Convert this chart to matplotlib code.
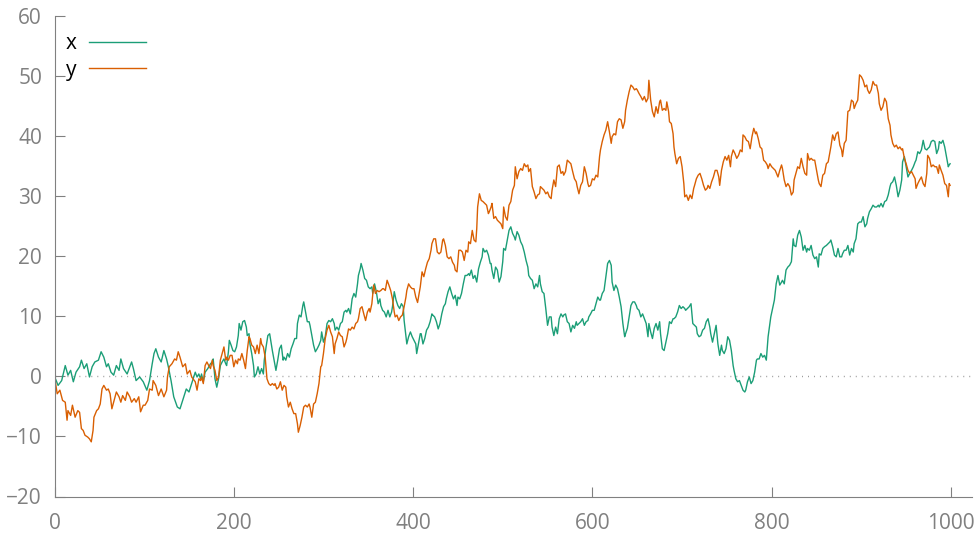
import matplotlib
matplotlib.use("Agg")
import matplotlib.pyplot as plt
from matplotlib.lines import Line2D

# Random walk samples: (step, value)
x_walk = [
    (0, 0.0), (4, -1.5), (8, -0.7), (12, 1.8), (15, 0.2), (18, 1.0), (21, -0.9), (24, 0.7), (28, 1.6), (30, 2.7),
    (33, 1.3), (36, 2.1), (39, -0.1), (42, 1.6), (45, 2.4), (49, 2.7), (52, 4.1), (55, 3.2), (58, 1.6), (60, 2.1),
    (63, 0.7), (66, 0.2), (69, 1.8), (72, 1.0), (74, 2.9), (77, 1.3), (81, 0.4), (84, 1.6), (86, 2.4), (88, 1.3),
    (91, -0.7), (95, -0.1), (99, -0.9), (103, -2.3), (106, -0.7), (109, 2.1), (111, 3.8), (113, 4.6), (116, 3.2),
    (119, 2.4), (122, 4.3), (125, 2.9), (127, 1.6), (130, -0.7), (133, -3.4), (137, -5.1), (140, -5.4), (143, -4.0),
    (147, -2.1), (150, -2.6), (153, -1.2),
    (157, 0.7), (159, -0.1), (161, 0.4), (163, -0.4), (164, 0.4), (166, -0.9), (168, 0.7), (171, 1.3), (174, 2.1),
    (176, 2.4), (177, 2.9), (179, -0.4), (181, -1.8), (183, -0.4), (185, 1.8), (187, 2.4), (189, 2.9), (191, 2.1),
    (192, 1.8), (194, 4.1), (195, 6.0), (197, 5.2), (199, 4.3), (201, 4.1), (203, 4.9), (205, 6.8), (206, 8.8),
    (208, 7.7), (210, 9.1), (212, 9.3), (214, 8.2), (215, 6.8), (217, 7.1), (218, 5.4), (220, 3.8), (222, 1.8),
    (223, -0.1), (225, 0.4), (227, 1.6), (229, 0.4), (231, 1.3), (233, 0.4), (234, 2.7), (236, 4.9), (238, 6.8),
    (240, 7.1), (242, 5.2), (243, 4.3), (245, 2.7), (247, 1.0), (249, 2.7), (251, 4.6), (253, 5.2), (255, 2.7),
    (256, 3.2), (258, 2.7), (260, 3.8), (262, 3.2), (264, 4.6), (266, 5.4), (268, 6.3), (270, 6.3), (271, 8.8),
    (273, 10.2), (275, 9.9), (277, 11.8), (278, 12.4), (280, 10.7), (282, 9.1), (284, 9.1), (285, 8.5), (287, 6.8),
    (289, 5.2), (291, 4.1), (293, 4.6), (295, 5.2), (297, 6.0), (298, 7.4), (300, 5.7), (302, 6.6), (304, 8.8),
    (306, 9.3), (308, 9.1), (310, 9.6), (312, 8.8), (313, 7.7), (315, 8.2), (317, 7.7), (319, 8.8), (321, 9.1),
    (323, 10.7), (325, 11.0),
    (326, 10.7), (328, 11.3), (330, 10.4), (332, 12.9), (334, 13.8), (336, 13.2), (338, 15.4), (339, 16.8),
    (341, 17.9), (342, 18.8), (344, 17.7), (346, 16.3), (348, 16.0), (350, 14.9), (352, 14.6), (354, 14.9),
    (355, 13.8), (357, 15.4), (359, 14.1), (361, 12.1), (363, 12.9), (364, 11.8), (366, 11.0), (368, 10.7),
    (370, 9.9), (372, 11.0), (374, 9.9), (376, 10.7), (377, 11.6), (379, 14.1), (381, 12.7), (383, 11.8),
    (385, 11.3), (387, 12.1), (389, 11.6), (390, 9.3), (392, 6.8), (393, 5.4), (395, 6.6), (397, 7.4), (399, 6.6),
    (401, 6.0), (403, 5.4), (404, 3.8), (406, 5.4), (408, 7.1), (409, 7.1), (411, 5.4), (413, 6.3), (415, 7.7),
    (417, 8.2), (419, 9.1), (421, 10.4), (422, 10.2), (424, 9.9), (426, 9.1), (428, 7.9), (430, 8.8), (432, 10.4),
    (434, 11.6), (436, 12.1), (437, 12.9), (439, 14.1), (441, 14.9), (443, 13.8), (445, 12.9), (447, 13.5),
    (449, 11.8), (450, 13.2), (452, 12.9), (454, 13.8), (456, 15.4), (458, 16.8), (460, 16.8), (462, 17.1),
    (463, 16.8), (465, 17.7), (467, 16.3), (469, 16.8), (471, 15.7), (473, 17.9), (475, 19.0), (477, 19.9),
    (478, 21.3), (480, 20.7), (482, 21.0), (484, 20.2), (486, 18.8),
    (487, 18.8), (488, 17.7), (490, 16.3), (492, 18.2), (494, 17.7), (496, 15.7), (498, 16.6), (500, 19.1),
    (501, 21.3), (503, 21.0), (505, 22.7), (507, 24.3), (509, 24.9), (511, 23.8), (513, 23.2), (514, 22.7),
    (516, 24.1), (518, 23.5), (520, 22.4), (522, 21.8), (524, 20.7), (526, 19.3), (528, 18.2), (529, 16.8),
    (531, 16.3), (533, 16.0), (535, 14.6), (537, 15.4), (539, 14.9), (541, 16.8), (542, 15.4), (544, 14.1),
    (546, 13.8), (548, 11.3), (550, 8.5), (552, 9.9), (554, 9.9), (555, 8.2), (557, 6.8), (559, 8.2), (561, 7.1),
    (563, 9.6), (565, 10.4), (567, 9.9), (568, 10.2), (570, 10.4), (572, 9.1), (574, 8.8), (576, 7.4), (578, 8.5),
    (580, 8.0), (582, 9.1), (583, 8.5), (585, 8.8), (587, 9.1), (589, 9.6), (591, 8.5), (593, 9.1), (595, 9.3),
    (596, 9.9), (598, 10.4), (600, 11.0), (602, 11.0), (604, 12.1), (606, 13.2), (608, 12.7), (609, 12.7),
    (611, 13.8), (613, 14.3), (615, 16.6), (617, 18.8), (619, 19.3), (621, 18.5), (622, 15.7), (624, 14.3),
    (626, 15.2), (628, 14.6), (630, 13.2), (632, 11.6), (634, 8.8), (636, 6.6), (637, 7.1), (639, 8.0), (641, 9.9),
    (643, 11.8), (645, 12.4), (647, 12.4), (649, 11.8),
    (650, 11.3), (652, 11.0), (654, 9.9), (656, 10.4), (658, 9.6), (660, 8.8), (662, 6.6), (663, 8.8), (665, 7.4),
    (667, 6.3), (669, 8.0), (671, 8.8), (673, 7.7), (675, 9.1), (676, 7.1), (678, 4.6), (680, 4.3), (682, 5.7),
    (684, 7.1), (686, 9.1), (688, 8.8), (690, 9.6), (691, 9.6), (693, 9.9), (695, 10.7), (697, 11.8), (699, 11.3),
    (701, 11.6), (703, 11.3), (704, 11.0), (706, 11.3), (708, 11.6), (710, 12.1), (712, 8.8), (714, 8.5),
    (716, 8.2), (717, 7.1), (719, 6.6), (721, 6.8), (723, 7.7), (725, 8.0), (727, 9.1), (729, 9.6), (731, 8.2),
    (732, 7.1), (734, 5.7), (736, 7.1), (738, 8.5), (740, 5.4), (742, 3.5), (744, 5.2), (745, 4.3), (747, 3.8),
    (749, 4.6), (751, 6.6), (753, 6.0), (755, 4.3), (757, 1.8), (758, 1.0), (760, -0.4), (762, -0.9), (764, -0.7),
    (766, -1.5), (768, -2.3), (770, -2.6), (771, -2.3), (773, -0.9), (775, -0.1), (777, -1.2), (779, -0.7),
    (781, 0.7), (783, 2.7), (784, 2.9), (786, 2.9), (788, 3.8), (790, 3.2), (792, 3.5), (794, 2.7), (796, 6.6),
    (798, 8.8), (799, 9.9), (801, 11.3), (803, 12.7), (805, 15.4),
    (807, 16.8), (809, 15.2), (811, 15.7), (812, 16.0), (814, 15.4), (816, 17.7), (818, 18.2), (820, 18.5),
    (822, 19.1), (824, 22.9), (825, 21.8), (827, 21.6), (829, 23.5), (831, 24.3), (833, 23.2), (835, 21.0),
    (837, 21.8), (839, 20.7), (840, 21.3), (842, 21.0), (844, 21.8), (846, 20.2), (848, 19.6), (850, 19.9),
    (852, 18.2), (853, 20.4), (855, 20.2), (857, 21.3), (859, 21.6), (861, 21.8), (863, 22.1), (865, 22.4),
    (866, 22.7), (868, 21.6), (870, 20.2), (872, 19.9), (874, 21.3), (876, 19.9), (878, 19.9), (879, 20.4),
    (881, 21.0), (883, 21.0), (885, 21.8), (887, 20.2), (889, 21.3), (891, 20.7), (892, 22.1), (894, 22.9),
    (896, 25.4), (898, 25.7), (900, 25.7), (902, 26.6), (904, 24.9), (906, 25.4), (907, 26.3), (909, 27.4),
    (911, 27.9), (913, 28.5), (915, 28.2), (917, 28.2), (919, 28.5), (920, 28.2), (922, 28.8), (924, 28.2),
    (926, 29.1), (928, 29.3), (930, 30.2), (932, 31.6), (933, 32.1), (935, 32.4), (937, 33.2), (939, 31.8),
    (941, 29.9), (943, 31.0), (945, 32.7), (946, 35.7), (948, 36.6), (950, 34.9), (952, 33.2), (954, 33.8),
    (956, 34.3), (958, 34.9), (960, 35.7), (961, 36.0), (963, 37.4), (965, 37.1), (967, 37.7), (969, 39.3),
    (971, 37.9), (973, 37.7), (974, 37.9), (976, 38.2), (978, 39.1), (980, 39.3), (982, 39.1), (984, 37.1),
    (986, 37.9), (987, 39.1), (989, 38.8), (991, 39.3), (993, 38.2), (995, 36.6), (997, 34.9), (998, 35.2),
    (999, 35.4),
]

y_walk = [
    (0, 0.0), (3, -2.9), (6, -2.3), (9, -4.0), (12, -4.3), (14, -7.3), (15, -5.7), (18, -6.5), (20, -4.8),
    (23, -6.8), (26, -5.7), (28, -6.0), (30, -8.7), (32, -9.0), (34, -9.8), (37, -10.1), (39, -10.4), (41, -10.9),
    (43, -9.0), (44, -6.8), (47, -5.7), (49, -5.4), (51, -4.6), (53, -2.1), (55, -1.5), (58, -2.3), (60, -2.1),
    (62, -2.9), (64, -5.4), (66, -4.3), (69, -2.6), (72, -3.4), (74, -4.3), (76, -3.2), (79, -4.0), (81, -2.6),
    (84, -3.4), (86, -4.3), (89, -3.7), (91, -4.3), (94, -3.4), (96, -5.9), (99, -4.8), (101, -4.8), (104, -4.0),
    (106, -2.1), (109, -2.3), (110, -0.7), (113, -1.5), (116, -3.2), (119, -2.1), (122, -3.4), (125, -2.3),
    (126, -0.1), (128, 1.6), (131, 2.1), (134, 2.9), (136, 2.7), (138, 4.1), (140, 3.2), (143, 1.6), (146, 2.1),
    (148, 0.4), (151, 1.0), (153, -0.1),
    (157, -0.9), (159, -2.3), (161, -0.4), (163, -0.7), (164, -0.1), (166, -1.2), (168, 1.8), (170, 2.4),
    (172, 1.8), (174, 1.3), (176, 2.7), (177, 1.8), (179, 1.0), (181, -0.7), (183, -0.1), (185, 2.7), (187, 3.8),
    (189, 4.9), (191, 2.7), (192, 3.2), (194, 2.7), (196, 3.5), (198, 3.5), (200, 1.6), (202, 2.7), (204, 2.1),
    (205, 2.9), (207, 2.7), (209, 3.8), (211, 2.7), (213, 1.3), (215, 4.3), (217, 6.6), (218, 6.3), (220, 5.2),
    (222, 4.9), (224, 3.8), (226, 5.2), (228, 3.8), (230, 6.3), (231, 5.4), (233, 4.9), (235, 3.2), (237, -0.4),
    (239, -1.2), (241, -1.5), (243, -1.2), (245, -1.5), (246, -1.2), (248, -2.1), (250, -1.8), (252, -0.9),
    (254, -2.3), (256, -1.5), (258, -1.8), (259, -3.4), (261, -5.1), (263, -4.3), (265, -5.4), (267, -6.2),
    (269, -6.2), (271, -7.9), (272, -9.3), (274, -8.2), (276, -6.8), (278, -5.1), (280, -4.8), (282, -5.1),
    (284, -4.6), (285, -5.1), (287, -6.8), (289, -4.6), (291, -4.3), (293, -2.9), (295, -1.2), (297, 1.6),
    (298, 1.8), (300, 3.8), (302, 6.3), (304, 7.7), (306, 8.5), (308, 7.4), (310, 6.6), (312, 3.8), (313, 5.4),
    (315, 6.3), (317, 7.4), (319, 6.8), (321, 6.6), (323, 4.9), (325, 5.7),
    (326, 6.3), (328, 7.9), (330, 7.7), (332, 8.2), (334, 7.9), (336, 8.8), (338, 9.1), (339, 9.6), (341, 11.3),
    (343, 11.6), (345, 10.4), (347, 9.3), (349, 10.7), (351, 11.3), (352, 10.7), (354, 12.1), (356, 15.2),
    (358, 13.8), (360, 14.3), (362, 14.1), (364, 14.3), (366, 14.6), (367, 14.6), (369, 14.3), (371, 16.0),
    (373, 15.2), (375, 14.3), (377, 12.9), (379, 10.7), (380, 9.9), (382, 10.2), (384, 9.3), (386, 9.9),
    (388, 10.2), (390, 11.6), (392, 13.2), (393, 14.3), (395, 15.4), (397, 14.9), (399, 14.6), (401, 14.6),
    (403, 13.2), (405, 12.3), (406, 13.2), (408, 14.9), (410, 17.4), (412, 16.6), (414, 17.9), (416, 19.0),
    (418, 19.6), (420, 21.0), (421, 22.1), (423, 22.9), (425, 22.9), (427, 20.7), (429, 20.4), (431, 20.7),
    (433, 22.7), (434, 22.9), (436, 21.8), (438, 19.9), (440, 19.6), (442, 19.9), (444, 19.0), (446, 18.5),
    (447, 17.7), (449, 17.4), (451, 21.0), (453, 21.0), (455, 20.7), (457, 19.3), (459, 21.0), (461, 20.7),
    (462, 22.4), (464, 22.1), (466, 24.3), (468, 22.7), (470, 22.4), (471, 24.6), (472, 28.2), (474, 30.4),
    (476, 29.3), (478, 29.1), (480, 28.8), (482, 28.5), (484, 27.1), (485, 27.4),
    (487, 28.2), (488, 28.8), (490, 26.3), (492, 26.6), (494, 26.0), (496, 25.7), (498, 25.4), (500, 24.6),
    (501, 28.2), (503, 26.6), (505, 26.0), (507, 28.5), (509, 29.1), (511, 31.0), (513, 31.8), (514, 34.9),
    (516, 32.9), (518, 34.1), (520, 34.6), (522, 34.3), (524, 35.4), (526, 34.9), (528, 35.2), (529, 34.1),
    (531, 34.6), (533, 31.6), (535, 30.7), (537, 29.6), (539, 30.2), (541, 30.4), (542, 31.6), (544, 31.3),
    (546, 31.0), (548, 30.4), (550, 30.7), (552, 29.9), (554, 29.6), (555, 31.0), (557, 32.7), (559, 31.6),
    (561, 34.9), (563, 35.2), (565, 33.8), (567, 34.1), (568, 33.5), (570, 34.1), (572, 36.0), (574, 35.7),
    (576, 35.4), (578, 34.1), (580, 32.9), (582, 32.4), (583, 31.6), (585, 30.4), (587, 31.8), (589, 32.4),
    (591, 34.9), (593, 33.8), (595, 32.1), (596, 31.6), (598, 31.8), (600, 32.9), (602, 32.7), (604, 33.5),
    (606, 33.2), (608, 36.6), (609, 37.7), (611, 39.1), (613, 40.2), (615, 41.0), (617, 42.4), (619, 40.7),
    (621, 38.8), (622, 39.9), (624, 40.4), (626, 40.2), (628, 42.4), (630, 42.9), (632, 42.7), (634, 41.3),
    (636, 42.4), (637, 44.3), (639, 46.0), (641, 47.4), (643, 48.5), (645, 48.2), (647, 47.7), (649, 47.9),
    (650, 47.7), (652, 47.1), (654, 46.6), (656, 46.0), (658, 46.6), (660, 45.7), (662, 46.3), (663, 49.3),
    (665, 46.0), (667, 44.1), (669, 43.2), (671, 44.9), (673, 43.8), (675, 45.7), (676, 46.0), (678, 44.3),
    (680, 44.6), (682, 44.3), (683, 45.7), (685, 44.1), (686, 42.4), (688, 42.1), (690, 40.4), (691, 38.2),
    (692, 37.1), (694, 35.4), (696, 36.3), (698, 36.6), (700, 34.9), (702, 32.1), (703, 29.9), (705, 30.2),
    (707, 29.3), (709, 30.2), (711, 29.6), (713, 31.3), (714, 31.8), (716, 32.9), (718, 33.5), (720, 33.8),
    (722, 32.9), (724, 31.8), (726, 31.0), (728, 31.3), (729, 31.8), (731, 31.3), (733, 32.4), (735, 33.2),
    (737, 34.3), (739, 34.3), (741, 33.2), (742, 31.8), (744, 34.3), (746, 35.7), (748, 36.6), (750, 36.0),
    (752, 36.8), (754, 34.9), (755, 36.6), (757, 37.7), (759, 37.1), (761, 36.3), (763, 36.8), (765, 37.7),
    (767, 37.4), (768, 40.2), (770, 39.9), (772, 39.3), (774, 39.1), (776, 37.9), (778, 39.9), (780, 41.3),
    (782, 40.4), (783, 40.7), (785, 39.6), (787, 38.2), (789, 37.9), (791, 36.0), (793, 35.7), (795, 35.2),
    (796, 34.6), (798, 35.4), (800, 34.9), (802, 34.6), (804, 34.3),
    (807, 33.2), (809, 34.3), (811, 35.2), (812, 34.6), (814, 32.7), (816, 31.6), (818, 32.1), (820, 31.6),
    (822, 30.2), (824, 30.7), (825, 32.7), (827, 33.8), (829, 34.9), (831, 34.6), (833, 36.3), (835, 34.9),
    (837, 33.8), (839, 33.5), (840, 37.1), (842, 36.0), (844, 36.3), (846, 36.0), (848, 36.0), (850, 34.3),
    (852, 32.7), (853, 32.1), (855, 31.6), (857, 33.5), (859, 33.8), (861, 35.4), (863, 35.7), (865, 37.4),
    (866, 38.2), (868, 40.2), (870, 39.3), (872, 40.4), (874, 40.7), (876, 38.5), (878, 37.7), (879, 36.6),
    (881, 38.8), (883, 39.3), (885, 44.1), (887, 44.3), (889, 46.0), (891, 45.7), (892, 44.6), (894, 45.4),
    (896, 46.0), (898, 50.2), (900, 49.9), (902, 49.3), (904, 48.2), (906, 48.5), (907, 47.7), (909, 47.1),
    (911, 47.7), (913, 49.1), (915, 48.5), (917, 48.5), (919, 47.1), (920, 45.4), (922, 44.3), (924, 44.9),
    (926, 46.3), (928, 45.7), (930, 42.9), (932, 41.8), (933, 40.2), (935, 38.8), (937, 38.2), (939, 38.5),
    (941, 37.9), (943, 38.2), (945, 37.7), (946, 37.9), (948, 36.3), (950, 35.4), (952, 34.3), (954, 33.8),
    (956, 34.1), (958, 33.5), (960, 32.9), (961, 31.3), (963, 32.1), (965, 32.7), (967, 33.2), (969, 32.1),
    (971, 31.6), (973, 33.8), (974, 36.8), (976, 36.3), (978, 34.9), (980, 35.2), (982, 34.9), (984, 34.9),
    (986, 33.8), (987, 35.2), (989, 34.3), (991, 33.5), (993, 32.1), (995, 31.8), (997, 29.9), (998, 32.1),
    (999, 31.8),
]

series_labels = ["x", "y"]
series_colors = ["#1b9e77", "#d95f02"]
x_ticks = [0, 200, 400, 600, 800, 1000]
y_ticks = [-20, -10, 0, 10, 20, 30, 40, 50, 60]

plt.rcParams["font.family"] = ["Open Sans", "DejaVu Sans"]
axis_gray = "#808080"

fig = plt.figure(figsize=(9.79, 5.38), dpi=100)
# plot area runs a little past the last tick, as the axis line does
ax = fig.add_axes([54.5 / 979, 41.5 / 538, 918 / 979, 480.5 / 538])

ax.axhline(0, color="#9a9a9a", lw=1.0, dashes=(0.7, 3.6), zorder=1)

for walk, label, color in zip([x_walk, y_walk], series_labels, series_colors):
    steps = [s for s, _ in walk]
    vals = [v for _, v in walk]
    ax.plot(steps, vals, color=color, lw=1.0, label=label, zorder=2)

ax.set_xlim(0, 1024)
ax.set_ylim(-20, 60)
ax.set_xticks(x_ticks)
ax.set_yticks(y_ticks)

for side in ("top", "right"):
    ax.spines[side].set_visible(False)
for side in ("left", "bottom"):
    ax.spines[side].set_color(axis_gray)
    ax.spines[side].set_linewidth(0.8)

ax.tick_params(direction="in", length=7.5, width=0.8, color=axis_gray,
               labelcolor=axis_gray, labelsize=15)
ax.tick_params(axis="x", pad=12)
ax.tick_params(axis="y", pad=9)

handles = [Line2D([], [], color=c, lw=1.0) for c in series_colors]
leg = ax.legend(handles, series_labels, loc="upper left", bbox_to_anchor=(0.012, 0.964),
                markerfirst=False, frameon=False, fontsize=15, handlelength=2.75,
                handletextpad=0.6, labelspacing=0.25, borderaxespad=0, borderpad=0)

fig.savefig("out.png", dpi=100)
